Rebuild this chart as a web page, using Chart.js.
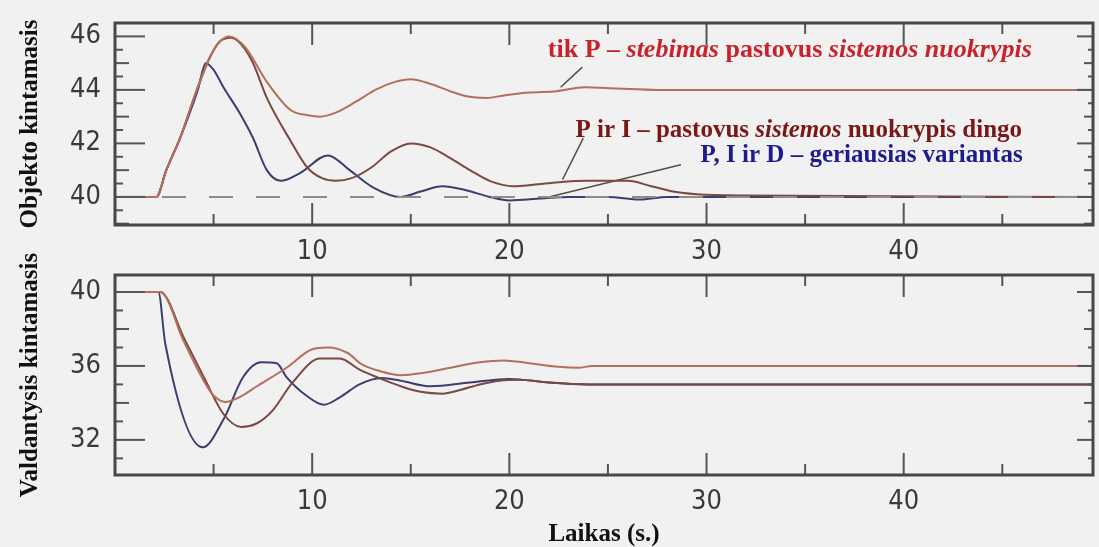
<!DOCTYPE html>
<html>
<head>
<meta charset="utf-8">
<script src="https://cdn.jsdelivr.net/npm/chart.js@4.4.1/dist/chart.umd.min.js"></script>
<style>
  body { margin: 0; background: #fff; overflow: hidden; }
  #wrap { position: relative; width: 1099px; height: 547px; background: #f1f1f1; }
  canvas { position: absolute; left: 0; }
  #top { top: 0; }
  #bottom { top: 245px; }
</style>
</head>
<body>
<div id="wrap">
  <canvas id="top" width="1099" height="260"></canvas>
  <canvas id="bottom" width="1099" height="302"></canvas>
</div>
<script>
// laiko asis ir padalos
const tMax = 49.6;
const xTickValues = [10, 20, 30, 40];
const yTopTickValues = [40, 42, 44, 46];
const yBottomTickValues = [32, 36, 40];
const setpoint = 40;

// virsutinis grafikas - objekto kintamasis
const pTopTime  = [0, 2.1, 2.6, 3.3, 4.2, 4.8, 5.3, 5.8, 6.6, 7.7, 8.9, 9.8, 10.4, 11.2, 12.2, 13.2, 14.2, 15.0, 16.1, 17.0, 17.9, 18.8, 19.8, 21.0, 22.4, 23.8, 25.5, 27.5, 49.6];
const pTopValue = [40, 40, 41.0, 42.2, 44.1, 45.2, 45.8, 46.0, 45.6, 44.3, 43.25, 43.05, 43.0, 43.15, 43.55, 44.0, 44.3, 44.4, 44.2, 43.95, 43.75, 43.7, 43.8, 43.9, 43.95, 44.1, 44.05, 44.0, 44.0];

const piTopTime  = [0, 2.1, 2.6, 3.3, 4.2, 4.8, 5.3, 5.9, 6.4, 7.0, 7.7, 8.9, 9.75, 10.5, 11.2, 12.0, 13.0, 14.0, 15.0, 16.0, 17.0, 18.0, 19.0, 20.2, 21.2, 22.5, 24.0, 26.0, 27.2, 28.3, 29.5, 32.0, 49.6];
const piTopValue = [40, 40, 41.0, 42.2, 44.1, 45.2, 45.8, 45.95, 45.7, 45.0, 43.7, 42.1, 41.1, 40.7, 40.6, 40.7, 41.1, 41.7, 42.0, 41.85, 41.45, 41.0, 40.6, 40.4, 40.45, 40.55, 40.6, 40.6, 40.4, 40.2, 40.1, 40.05, 40.0];

const pidTopTime  = [0, 2.1, 2.6, 3.3, 4.2, 4.6, 5.0, 5.5, 6.35, 7.0, 7.7, 8.4, 9.4, 10.8, 11.9, 13.1, 14.5, 15.5, 16.6, 17.8, 19.0, 20.0, 21.6, 23.0, 25.0, 26.6, 28.0, 49.6];
const pidTopValue = [40, 40, 41.0, 42.2, 44.0, 45.0, 44.75, 44.1, 43.1, 42.2, 41.0, 40.6, 40.9, 41.55, 41.0, 40.35, 40.0, 40.2, 40.4, 40.25, 40.0, 39.87, 39.94, 40.0, 40.0, 39.9, 40.0, 40.0];

// apatinis grafikas - valdantysis kintamasis
const pBotTime  = [0, 2.3, 3.5, 4.5, 5.0, 5.6, 6.3, 7.2, 8.7, 10.0, 10.8, 11.8, 12.5, 13.5, 14.5, 15.5, 17.0, 18.5, 19.7, 21.0, 22.5, 23.5, 24.2, 49.6];
const pBotValue = [40, 40, 37.3, 35.2, 34.4, 34.05, 34.3, 34.9, 35.9, 36.9, 37.0, 36.7, 36.1, 35.7, 35.5, 35.6, 35.9, 36.2, 36.3, 36.15, 35.95, 35.9, 36.0, 36.0];

const piBotTime  = [0, 2.3, 3.5, 4.5, 5.5, 6.4, 7.2, 8.0, 9.0, 10.4, 11.4, 12.4, 13.5, 14.5, 15.5, 16.6, 17.5, 18.5, 19.5, 20.5, 22.0, 24.0, 49.6];
const piBotValue = [40, 40, 37.5, 35.4, 33.4, 32.7, 32.9, 33.6, 35.1, 36.4, 36.4, 35.8, 35.3, 34.9, 34.6, 34.5, 34.7, 35.0, 35.2, 35.25, 35.1, 35.0, 35.0];

const pidBotTime  = [0, 2.2, 2.55, 4.45, 5.5, 6.5, 7.4, 8.2, 8.7, 9.7, 10.6, 11.4, 12.4, 13.5, 14.5, 16.0, 18.0, 20.0, 22.0, 24.0, 49.6];
const pidBotValue = [40, 40, 37.2, 31.6, 33.1, 35.4, 36.2, 36.15, 35.4, 34.4, 33.9, 34.3, 35.0, 35.35, 35.2, 34.9, 35.1, 35.3, 35.1, 35.0, 35.0];

// uzrasu rodykles (laikas, reiksme)
const leaderP   = [[22.6, 44.1], [23.7, 44.85]];
const leaderPI  = [[22.7, 40.65], [23.75, 42.2]];
const leaderPID = [[22.0, 40.0], [28.7, 41.2]];

const colP = '#b36f5c';
const colPI = '#7b4842';
const colPID = '#3d3d6e';

function pts(times, values) {
  return times.map((t, i) => ({ x: t, y: values[i] }));
}
function curve(times, values, color) {
  return {
    data: pts(times, values),
    borderColor: color,
    borderWidth: 2,
    pointRadius: 0,
    cubicInterpolationMode: 'monotone'
  };
}
function leader(p) {
  return {
    data: p.map(a => ({ x: a[0], y: a[1] })),
    borderColor: '#5a4a48',
    borderWidth: 1.5,
    pointRadius: 0
  };
}

// remelis ir vidines padalos
const frameTicks = {
  id: 'frameTicks',
  afterDatasetsDraw(chart, args, o) {
    const { ctx, chartArea: a, scales: { x, y } } = chart;
    ctx.save();
    ctx.strokeStyle = '#555';
    ctx.lineWidth = 2;
    const seg = (x1, y1, x2, y2) => { ctx.beginPath(); ctx.moveTo(x1, y1); ctx.lineTo(x2, y2); ctx.stroke(); };
    for (let t = 5; t < x.max; t += 5) {
      const px = x.getPixelForValue(t);
      const len = t % 10 === 0 ? 22 : 11;
      seg(px, a.top, px, a.top + len);
      seg(px, a.bottom, px, a.bottom - len);
    }
    const start = Math.ceil(y.min / o.step) * o.step;
    for (let v = start; v <= y.max; v += o.step) {
      const py = y.getPixelForValue(v);
      let l = 8, r = 5;
      if (Math.abs(v % o.mid) < 1e-6) { l = 14; r = 9; }
      if (Math.abs(v % o.long) < 1e-6) { l = 30; r = 16; }
      seg(a.left, py, a.left + l, py);
      seg(a.right, py, a.right - r, py);
    }
    ctx.lineWidth = 3;
    ctx.strokeStyle = '#474747';
    ctx.strokeRect(a.left, a.top, a.right - a.left, a.bottom - a.top);
    ctx.restore();
  }
};

// spalvoti uzrasai su pasvirais zodziais
const curveLabels = {
  id: 'curveLabels',
  afterDatasetsDraw(chart, args, o) {
    if (!o.items) return;
    const { ctx, scales: { x, y } } = chart;
    ctx.save();
    ctx.textBaseline = 'middle';
    o.items.forEach(item => {
      let px = x.getPixelForValue(item.at[0]);
      const py = y.getPixelForValue(item.at[1]);
      ctx.fillStyle = item.color;
      item.parts.forEach(p => {
        ctx.font = (p[1] ? 'italic ' : '') + 'bold ' + item.size + 'px "Liberation Serif", serif';
        ctx.fillText(p[0], px, py);
        px += ctx.measureText(p[0]).width;
      });
    });
    ctx.restore();
  }
};

const tickFont = { family: '"Liberation Sans Narrow", "DejaVu Sans Condensed", sans-serif', size: 27 };
const titleFont = { family: '"Liberation Serif", serif', size: 25, weight: 'bold' };

// kad etikeciu kysuliai nekeistu braizymo srities
function noOverflow(s) {
  s.paddingTop = 0; s.paddingBottom = 0; s.paddingLeft = 0; s.paddingRight = 0;
}

function scalesFor(yMin, yMax, yTicks, yTitle, xTitle) {
  return {
    x: {
      type: 'linear', min: 0, max: tMax,
      grid: { display: false, drawTicks: false }, border: { display: false },
      afterBuildTicks: s => { s.ticks = xTickValues.map(v => ({ value: v })); },
      ticks: { font: tickFont, color: '#3a3a3a', padding: 11, maxRotation: 0 },
      title: xTitle ? { display: true, text: xTitle, font: titleFont, color: '#111', padding: { top: 0, bottom: -3 } } : { display: false },
      afterFit: s => { s.height = xTitle ? 72 : 35; noOverflow(s); }
    },
    y: {
      min: yMin, max: yMax,
      grid: { display: false, drawTicks: false }, border: { display: false },
      afterBuildTicks: s => { s.ticks = yTicks.map(v => ({ value: v })); },
      ticks: { font: tickFont, color: '#3a3a3a', padding: 14 },
      title: { display: true, text: yTitle, font: titleFont, color: '#111', padding: { top: 16, bottom: 0 } },
      afterFit: s => { s.width = 115; noOverflow(s); }
    }
  };
}

new Chart(document.getElementById('top'), {
  type: 'line',
  data: {
    datasets: [
      {
        data: [{ x: 0, y: setpoint }, { x: tMax, y: setpoint }],
        borderColor: '#8c8c8c', borderWidth: 2, borderDash: [24, 23], pointRadius: 0
      },
      curve(pTopTime, pTopValue, colP),
      curve(piTopTime, piTopValue, colPI),
      curve(pidTopTime, pidTopValue, colPID),
      leader(leaderP),
      leader(leaderPI),
      leader(leaderPID)
    ]
  },
  options: {
    responsive: false,
    animation: false,
    layout: { padding: { top: 23, right: 6, left: 0, bottom: 0 } },
    plugins: {
      legend: { display: false },
      tooltip: { enabled: false },
      frameTicks: { step: 0.5, mid: 1, long: 2 },
      curveLabels: {
        items: [
          { at: [21.95, 45.48], size: 26, color: '#c8232b', parts: [['tik P – ', 0], ['stebimas', 1], [' pastovus ', 0], ['sistemos nuokrypis', 1]] },
          { at: [23.35, 42.49], size: 25, color: '#7a1818', parts: [['P ir I – pastovus ', 0], ['sistemos', 1], [' nuokrypis dingo', 0]] },
          { at: [29.7, 41.55], size: 25, color: '#1c1c8c', parts: [['P, I ir D – geriausias variantas', 0]] }
        ]
      }
    },
    scales: scalesFor(38.95, 46.5, yTopTickValues, 'Objekto kintamasis', null)
  },
  plugins: [frameTicks, curveLabels]
});

new Chart(document.getElementById('bottom'), {
  type: 'line',
  data: {
    datasets: [
      curve(pBotTime, pBotValue, colP),
      curve(piBotTime, piBotValue, colPI),
      curve(pidBotTime, pidBotValue, colPID)
    ]
  },
  options: {
    responsive: false,
    animation: false,
    layout: { padding: { top: 30, right: 6, left: 0, bottom: 0 } },
    plugins: {
      legend: { display: false },
      tooltip: { enabled: false },
      frameTicks: { step: 1, mid: 2, long: 4 }
    },
    scales: scalesFor(30.1, 40.92, yBottomTickValues, 'Valdantysis kintamasis', 'Laikas (s.)')
  },
  plugins: [frameTicks, curveLabels]
});
</script>
</body>
</html>
